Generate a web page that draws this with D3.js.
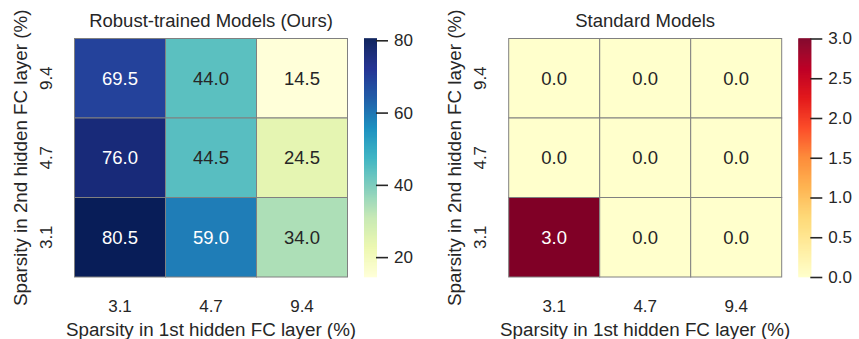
<!DOCTYPE html>
<html>
<head>
<meta charset="utf-8">
<script src="https://cdn.jsdelivr.net/npm/d3@7"></script>
<style>
  html, body { margin: 0; padding: 0; background: #ffffff; }
  svg { display: block; }
  text { font-family: "Liberation Sans", Arial, sans-serif; fill: #262626; }
</style>
</head>
<body>
<svg id="chart" width="859" height="339"></svg>
<script>
// Sparsity levels (%) of the two hidden FC layers
const xCategories = ["3.1", "4.7", "9.4"];          // 1st hidden FC layer
const yCategories = ["9.4", "4.7", "3.1"];          // 2nd hidden FC layer, top to bottom

// Accuracy values, rows follow yCategories, columns follow xCategories
const robustValues = [
  [69.5, 44.0, 14.5],
  [76.0, 44.5, 24.5],
  [80.5, 59.0, 34.0]
];
const standardValues = [
  [0.0, 0.0, 0.0],
  [0.0, 0.0, 0.0],
  [3.0, 0.0, 0.0]
];

const robustTicks = [20, 40, 60, 80];
const standardTicks = [0.0, 0.5, 1.0, 1.5, 2.0, 2.5, 3.0];

const titles = ["Robust-trained Models (Ours)", "Standard Models"];
const xLabel = "Sparsity in 1st hidden FC layer (%)";
const yLabel = "Sparsity in 2nd hidden FC layer (%)";

const svg = d3.select("#chart");

const FONT_TITLE = "18.5px";
const FONT_LABEL = "18.8px";
const FONT_TICK = "17px";
const FONT_ANNOT = "18.5px";

function luminance(c) {
  const rgb = d3.rgb(c);
  const ch = [rgb.r, rgb.g, rgb.b].map(v => {
    v /= 255;
    return v <= 0.03928 ? v / 12.92 : Math.pow((v + 0.055) / 1.055, 2.4);
  });
  return 0.2126 * ch[0] + 0.7152 * ch[1] + 0.0722 * ch[2];
}

function drawPanel(opts) {
  const { left, top, width, height, values, scheme, domain, ticks, tickFmt, title, cbLeft } = opts;
  const g = svg.append("g");

  const x = d3.scaleBand().domain(xCategories).range([left, left + width]).padding(0);
  const y = d3.scaleBand().domain(yCategories).range([top, top + height]).padding(0);
  const color = d3.scaleSequential(d3.piecewise(d3.interpolateRgb, scheme)).domain(domain);

  const cells = [];
  values.forEach((row, i) => row.forEach((v, j) => cells.push({ xc: xCategories[j], yc: yCategories[i], v })));

  g.selectAll("rect.cell").data(cells).join("rect")
    .attr("class", "cell")
    .attr("x", d => x(d.xc))
    .attr("y", d => y(d.yc))
    .attr("width", x.bandwidth())
    .attr("height", y.bandwidth())
    .attr("fill", d => color(d.v))
    .attr("stroke", "#808080")
    .attr("stroke-width", 1);

  g.selectAll("text.annot").data(cells).join("text")
    .attr("class", "annot")
    .attr("x", d => x(d.xc) + x.bandwidth() / 2)
    .attr("y", d => y(d.yc) + y.bandwidth() / 2)
    .attr("text-anchor", "middle")
    .attr("dominant-baseline", "central")
    .style("font-size", FONT_ANNOT)
    .style("fill", d => luminance(color(d.v)) < 0.408 ? "#ffffff" : "#262626")
    .text(d => d.v.toFixed(1));

  // x tick labels
  g.selectAll("text.xt").data(xCategories).join("text")
    .attr("class", "xt")
    .attr("x", d => x(d) + x.bandwidth() / 2)
    .attr("y", top + height + 34.5)
    .attr("text-anchor", "middle")
    .style("font-size", FONT_TICK)
    .text(d => d);

  // y tick labels (rotated)
  g.selectAll("text.yt").data(yCategories).join("text")
    .attr("class", "yt")
    .attr("transform", d => `translate(${left - 22.5},${y(d) + y.bandwidth() / 2}) rotate(-90)`)
    .attr("text-anchor", "middle")
    .style("font-size", FONT_TICK)
    .text(d => d);

  // title
  g.append("text")
    .attr("x", left + width / 2)
    .attr("y", top - 12)
    .attr("text-anchor", "middle")
    .style("font-size", FONT_TITLE)
    .text(title);

  // axis labels
  g.append("text")
    .attr("x", left + width / 2)
    .attr("y", top + height + 59)
    .attr("text-anchor", "middle")
    .style("font-size", FONT_LABEL)
    .text(xLabel);

  g.append("text")
    .attr("transform", `translate(${left - 48},${top + height / 2}) rotate(-90)`)
    .attr("text-anchor", "middle")
    .style("font-size", FONT_LABEL)
    .text(yLabel);

  // colorbar
  const cbW = 13;
  const cbScale = d3.scaleLinear().domain(domain).range([top + height, top]);
  const steps = 240;
  const stepVals = d3.range(steps).map(k => domain[0] + (domain[1] - domain[0]) * (k + 0.5) / steps);
  const stepH = height / steps;
  g.selectAll("rect.cb").data(stepVals).join("rect")
    .attr("class", "cb")
    .attr("x", cbLeft)
    .attr("y", d => cbScale(d) - stepH / 2 - 0.3)
    .attr("width", cbW)
    .attr("height", stepH + 0.6)
    .attr("fill", d => color(d));

  const axis = d3.axisRight(cbScale).tickValues(ticks).tickFormat(tickFmt).tickSize(12).tickPadding(6);
  const ag = g.append("g").attr("transform", `translate(${cbLeft + cbW - 1},0)`).call(axis);
  ag.select(".domain").remove();
  ag.selectAll(".tick line").attr("stroke", "#262626").attr("stroke-width", 1.6);
  ag.selectAll(".tick text").style("font-size", FONT_TICK).style("fill", "#262626")
    .style("font-family", "'Liberation Sans', Arial, sans-serif");
}

drawPanel({
  left: 74.5, top: 38.5, width: 273, height: 238.5,
  values: robustValues, scheme: d3.schemeYlGnBu[9], domain: [14.5, 80.5],
  ticks: robustTicks, tickFmt: d3.format("d"), title: titles[0], cbLeft: 364
});

drawPanel({
  left: 508.7, top: 38.5, width: 273, height: 238.5,
  values: standardValues, scheme: d3.schemeYlOrRd[9], domain: [0, 3],
  ticks: standardTicks, tickFmt: d3.format(".1f"), title: titles[1], cbLeft: 798.3
});
</script>
</body>
</html>
